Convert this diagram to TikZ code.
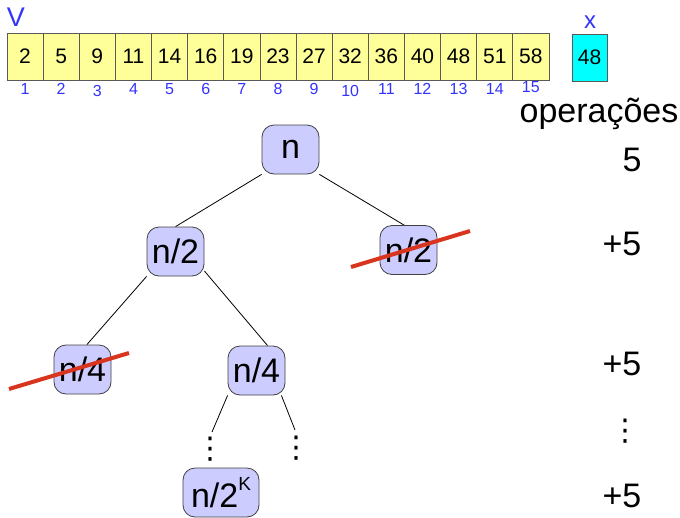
\documentclass[tikz,border=0pt]{standalone}
\usepackage{fontspec}
\setmainfont{Liberation Sans}
\newfontfamily\dejavu{DejaVu Sans}
\usetikzlibrary{backgrounds,calc}
\definecolor{cellyellow}{RGB}{255,255,153}
\definecolor{lav}{RGB}{204,204,255}
\definecolor{idxblue}{RGB}{51,51,255}
\definecolor{crossred}{RGB}{216,52,30}
\definecolor{boxcyan}{RGB}{0,255,255}
\begin{document}
\begin{tikzpicture}[x=1pt,y=-1pt,
  cell/.style={draw=black!65,fill=cellyellow,line width=0.8pt,minimum width=36.13pt,minimum height=47pt,inner sep=0pt,font=\fontsize{21}{24}\selectfont},
  idx/.style={text=idxblue,inner sep=0pt,font=\fontsize{16}{18}\selectfont},
  lbl/.style={text=idxblue,inner sep=0pt,font=\fontsize{27}{30}\selectfont},
  tnode/.style={draw=black!75,fill=lav,line width=0.8pt,rounded corners=12pt,minimum width=57pt,minimum height=49pt,inner sep=0pt,font=\fontsize{34}{38}\selectfont},
  edge/.style={draw=black,line width=0.8pt},
  cross/.style={draw=crossred,line width=4pt},
  ops/.style={inner sep=0pt,anchor=base,font=\fontsize{34}{38}\selectfont},
  vdots/.style={inner sep=0pt,font=\dejavu\fontsize{30}{32}\selectfont},
]
\useasboundingbox (0,0) rectangle (680,517);
% array
\foreach \v [count=\i] in {2,5,9,11,14,16,19,23,27,32,36,40,48,51,58}{
  \node[cell] (c\i) at ({7+36.13*(\i-0.5)},56.5) {\v};
}
\foreach \yy [count=\i] in {89,89,91,89,89,89,89,89,89,91,89,89,89,89,87}{
  \node[idx] (i\i) at ({7+36.13*(\i-0.5)},\yy) {\i};
}
\node[lbl] (V) at (16,17) {V};
\node[cell,fill=boxcyan,minimum width=35pt] (xbox) at (589.5,57.5) {48};
\node[lbl,font=\fontsize{24}{28}\selectfont] (xl) at (590,22) {x};
% operations column
\node[ops] (opt) at (599,122) {operações};
\node[ops] (o1) at (632,171) {5};
\node[ops] (o2) at (622,255) {+5};
\node[ops] (o3) at (622,375) {+5};
\node[vdots] (o4) at (625,431) {⋮};
\node[ops] (o5) at (622,507) {+5};
% tree
\node[tnode] (n) at (290.5,149.5) {n};
\node[tnode] (n2l) at (175.5,251.5) {n/2};
\node[tnode] (n2r) at (408.5,250) {n/2};
\node[tnode] (n4l) at (82.5,369.5) {n/4};
\node[tnode] (n4r) at (256.5,370.5) {n/4};
\node[tnode,minimum width=76pt] (n2k) at (221,492.5) {n/2\raisebox{0.5em}{\fontsize{19}{20}\selectfont K}};
\node[vdots] (dl) at (210,449) {⋮};
\node[vdots] (dr) at (296,448) {⋮};
\coordinate (dlt) at (212,432);
\coordinate (drt) at (295,430);
\begin{scope}[on background layer]
  \draw[edge] (n.south west) -- (n2l.north);
  \draw[edge] (n.south east) -- (n2r.100);
  \draw[edge] (n2l.south west) -- (n4l.80);
  \draw[edge] (n2l.-34) -- (n4r.66);
  \draw[edge] (n4r.south west) -- (dlt);
  \draw[edge] (n4r.-45) -- (drt);
\end{scope}
% cross-outs
\coordinate (r1a) at (351,267);
\coordinate (r1b) at (470,231);
\coordinate (r2a) at (9,389);
\coordinate (r2b) at (129,353);
\draw[cross] (r1a) -- (r1b);
\draw[cross] (r2a) -- (r2b);
\end{tikzpicture}
\end{document}
